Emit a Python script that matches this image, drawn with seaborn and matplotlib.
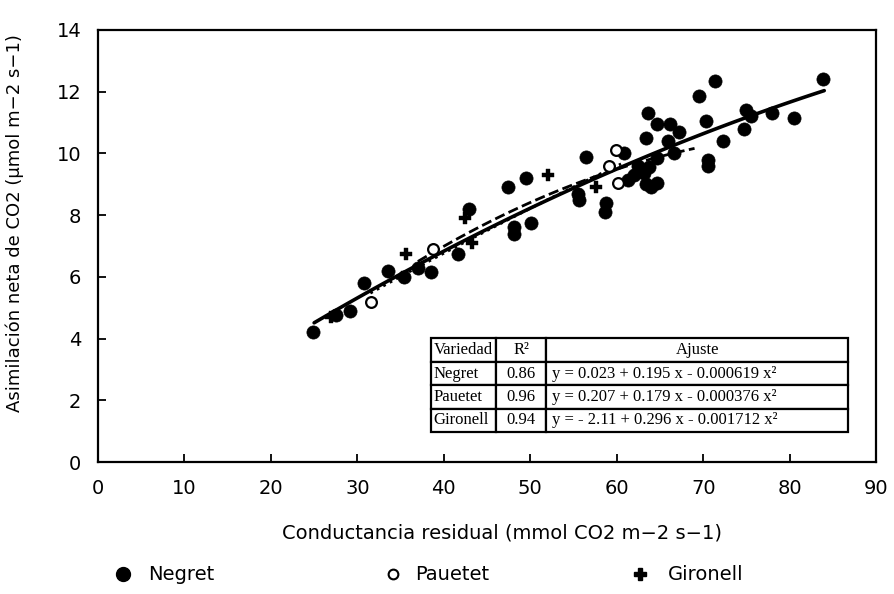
import numpy as np
import pandas as pd
import matplotlib
matplotlib.use("Agg")
import matplotlib.pyplot as plt
import seaborn as sns
from matplotlib.lines import Line2D

sns.set_theme(style="white")
plt.rcParams['font.family'] = ['DejaVu Sans']
plt.rcParams['text.color'] = 'black'
plt.rcParams['axes.labelcolor'] = 'black'
plt.rcParams['xtick.color'] = 'black'
plt.rcParams['ytick.color'] = 'black'

# ---- data ----
negret_x = [24.9, 27.5, 29.2, 30.8, 33.5, 35.4, 37.0, 38.5, 41.6, 42.9, 47.4, 49.5, 48.1, 48.1,
            50.1, 56.4, 60.8, 61.3, 55.5, 55.6, 58.7, 58.6, 63.6, 64.7, 63.4, 66.2, 67.2, 65.9,
            63.1, 63.7, 62.5, 64.7, 66.6, 63.4, 64.7, 69.5, 71.4, 70.3, 72.3, 70.5, 70.6, 74.9,
            75.5, 74.7, 78.0, 80.5, 83.9, 62.0, 64.0]
negret_y = [4.2, 4.75, 4.9, 5.8, 6.2, 6.0, 6.3, 6.15, 6.75, 8.2, 8.9, 9.2, 7.6, 7.4,
            7.75, 9.9, 10.0, 9.15, 8.7, 8.5, 8.4, 8.1, 11.3, 10.95, 10.5, 10.95, 10.7, 10.4,
            9.35, 9.55, 9.6, 9.85, 10.0, 9.0, 9.05, 11.85, 12.35, 11.05, 10.4, 9.8, 9.6, 11.4,
            11.2, 10.8, 11.3, 11.15, 12.4, 9.3, 8.9]
pauetet_x = [31.6, 38.8, 59.9, 59.1, 60.1]
pauetet_y = [5.2, 6.9, 10.1, 9.6, 9.05]
gironell_x = [27.0, 35.3, 35.6, 42.5, 43.3, 52.0, 57.6]
gironell_y = [4.7, 6.0, 6.75, 7.9, 7.1, 9.3, 8.9]

varieties = ["Negret", "Pauetet", "Gironell"]
r2 = ["0.86", "0.96", "0.94"]
ajuste = ["y = 0.023 + 0.195 x - 0.000619 x\u00b2",
          "y = 0.207 + 0.179 x - 0.000376 x\u00b2",
          "y = - 2.11 + 0.296 x - 0.001712 x\u00b2"]
# fit coefficients (a, b, c) and fitted x-ranges
coef_a = [0.023, 0.207, -2.11]
coef_b = [0.195, 0.179, 0.296]
coef_c = [-0.000619, -0.000376, -0.001712]
fit_xmin = [25.0, 31.5, 37.0]
fit_xmax = [84.0, 60.5, 69.0]
fit_styles = ["-", ":", "--"]

x_ticks = [0, 10, 20, 30, 40, 50, 60, 70, 80, 90]
y_ticks = [0, 2, 4, 6, 8, 10, 12, 14]

# ---- figure ----
fig = plt.figure(figsize=(8.94, 5.94), dpi=100)
ax = fig.add_axes([0.1096, 0.2222, 0.8704, 0.7273])

sns.scatterplot(x=negret_x, y=negret_y, ax=ax, color="black", marker="o",
                s=90, edgecolor="black", linewidth=0.5, zorder=3)
sns.scatterplot(x=pauetet_x, y=pauetet_y, ax=ax, marker="o", s=60,
                facecolor="white", edgecolor="black", linewidth=1.6, zorder=4)
sns.scatterplot(x=gironell_x, y=gironell_y, ax=ax, color="black", marker="P",
                s=70, edgecolor="black", linewidth=0.3, zorder=3)

for a, b, c, lo, hi, ls in zip(coef_a, coef_b, coef_c, fit_xmin, fit_xmax, fit_styles):
    xs = np.linspace(lo, hi, 100)
    ys = a + b * xs + c * xs ** 2
    sns.lineplot(x=xs, y=ys, ax=ax, color="black", linestyle=ls,
                 linewidth=2.6 if ls == "-" else 2.0, zorder=2)

ax.set_xlim(0, 90)
ax.set_ylim(0, 14)
ax.set_xticks(x_ticks)
ax.set_yticks(y_ticks)
ax.tick_params(direction="in", length=6, width=1.3, labelsize=14, pad=12,
               bottom=True, left=True, colors="black")
for sp in ax.spines.values():
    sp.set_color("black")
    sp.set_linewidth(1.6)

ax.set_xlabel("Conductancia residual (mmol CO2 m\u22122 s\u22121)", fontsize=14)
ax.set_ylabel("Asimilaci\u00f3n neta de CO2 (\u03bcmol m\u22122 s\u22121)", fontsize=13)
ax.xaxis.set_label_coords(0.519, -0.143)
ax.yaxis.set_label_coords(-0.095, 0.553)

# table
cell_text = [[v, r, e] for v, r, e in zip(varieties, r2, ajuste)]
tbl = ax.table(cellText=cell_text, colLabels=["Variedad", "R\u00b2", "Ajuste"],
               colWidths=[0.156, 0.120, 0.724],
               bbox=[0.428, 0.069, 0.536, 0.217], zorder=5)
tbl.auto_set_font_size(False)
for (r, c), cell in tbl.get_celld().items():
    cell.set_edgecolor("black")
    cell.set_linewidth(1.6)
    cell.set_facecolor("white")
    txt = cell.get_text()
    txt.set_fontfamily(["Liberation Serif", "DejaVu Serif"])
    txt.set_fontsize(12)
    txt.set_color("black")
    if c == 0:
        cell.set_text_props(ha="left")
        cell.PAD = 0.04
    elif c == 1:
        cell.set_text_props(ha="center")
    else:
        if r == 0:
            cell.set_text_props(ha="center")
        else:
            cell.set_text_props(ha="left")
            cell.PAD = 0.02

# legend below (manual placement in figure coords)
leg_y = 1 - 574 / 594
leg_markers = [dict(marker="o", color="black", markersize=10),
               dict(marker="o", markerfacecolor="white", markeredgecolor="black",
                    markeredgewidth=1.5, markersize=7),
               dict(marker="P", color="black", markersize=9)]
leg_mx = [123 / 894, 393 / 894, 640 / 894]
leg_tx = [148 / 894, 415 / 894, 668 / 894]
for mk, mx, tx, name in zip(leg_markers, leg_mx, leg_tx, varieties):
    fig.add_artist(Line2D([mx], [leg_y], linestyle="none", transform=fig.transFigure, **mk))
    fig.text(tx, leg_y, name, fontsize=14, va="center", ha="left", color="black")

fig.savefig("out.png", dpi=100, facecolor="white")
